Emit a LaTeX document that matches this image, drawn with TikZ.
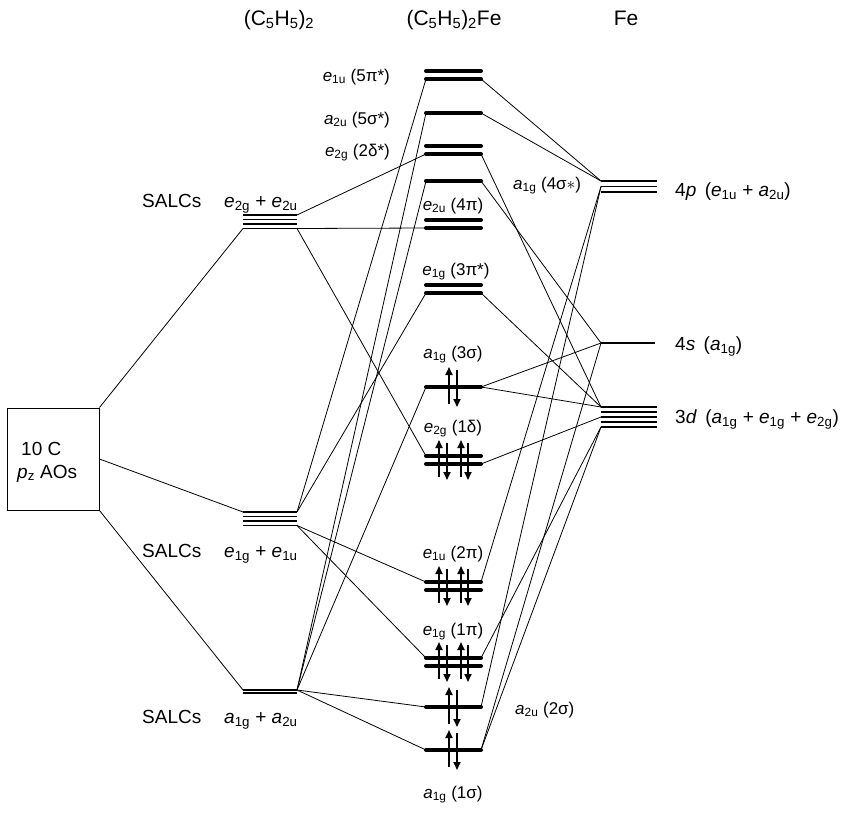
\documentclass[tikz,border=0pt]{standalone}
\usepackage{fontspec}
\setmainfont{Liberation Sans}
\usetikzlibrary{arrows.meta}
% irreducible representation: italic letter with upright subscript
\newcommand\irr[2]{\textit{#1}\textsubscript{#2}}
\begin{document}
\begin{tikzpicture}[x=1pt,y=-1pt,
  conn/.style={line width=0.8pt},
  salc/.style={line width=1.3pt},
  felevel/.style={line width=1.4pt},
  mobar/.style={line width=4pt,line cap=round},
  elec/.style={line width=1.8pt,-{Triangle[length=8pt,width=7pt]}},
  head/.style={inner sep=0pt,font=\fontsize{21}{24}\selectfont},
  molab/.style={inner sep=0pt,font=\fontsize{17}{20}\selectfont},
  salclab/.style={inner sep=0pt,font=\fontsize{19}{22}\selectfont},
  felab/.style={inner sep=0pt,font=\fontsize{19}{22}\selectfont},
  boxlab/.style={inner sep=0pt,font=\fontsize{19}{22}\selectfont}]
\fill[white] (0,0) rectangle (854,812);
\useasboundingbox (0,0) rectangle (854,812);

% ---- column headings
\node[head,anchor=base] (hL) at (279,25) {(C\textsubscript{5}H\textsubscript{5})\textsubscript{2}};
\node[head,anchor=base] (hM) at (454,25) {(C\textsubscript{5}H\textsubscript{5})\textsubscript{2}Fe};
\node[head,anchor=base] (hR) at (626,25) {Fe};

% ---- carbon p_z basis
\node[draw,line width=1pt,minimum width=92pt,minimum height=102pt,inner sep=0pt] (box) at (53,459) {};
\node[boxlab,anchor=base west] (boxa) at (21,455) {10 C};
\node[boxlab,anchor=base west] (boxb) at (17,478) {\irr{p}{z} AOs};

% ---- ligand SALC levels
\foreach \y/\n in {215/1,219.5/2,224/3,228.5/4}{
  \coordinate (sT\n L) at (243,\y); \coordinate (sT\n R) at (297,\y);
  \draw[salc] (sT\n L) -- (sT\n R);}
\foreach \y/\n in {512/1,516.5/2,521/3,525.5/4}{
  \coordinate (sM\n L) at (243,\y); \coordinate (sM\n R) at (297,\y);
  \draw[salc] (sM\n L) -- (sM\n R);}
\foreach \y/\n in {690/1,693/2}{
  \coordinate (sB\n L) at (243,\y); \coordinate (sB\n R) at (297,\y);
  \draw[salc] (sB\n L) -- (sB\n R);}
\node[salclab,anchor=base west] (sTa) at (142,207) {SALCs};
\node[salclab,anchor=base west] (sTb) at (224,207) {\irr{e}{2g} + \irr{e}{2u}};
\node[salclab,anchor=base west] (sMa) at (142,557) {SALCs};
\node[salclab,anchor=base west] (sMb) at (224,557) {\irr{e}{1g} + \irr{e}{1u}};
\node[salclab,anchor=base west] (sBa) at (142,723) {SALCs};
\node[salclab,anchor=base west] (sBb) at (224,723) {\irr{a}{1g} + \irr{a}{2u}};

% ---- Fe atomic levels
\foreach \y/\n in {181/1,186.5/2,192/3}{
  \coordinate (p\n L) at (601,\y); \coordinate (p\n R) at (657,\y);
  \draw[felevel] (p\n L) -- (p\n R);}
\coordinate (sL) at (601,343); \coordinate (sR) at (655,343);
\draw[felevel] (sL) -- (sR);
\foreach \y/\n in {407/1,412/2,417/3,422/4,427/5}{
  \coordinate (d\n L) at (601,\y); \coordinate (d\n R) at (657,\y);
  \draw[felevel] (d\n L) -- (d\n R);}
\node[felab,anchor=base west] (p4lab) at (675,196) {4\textit{p}\, (\irr{e}{1u} + \irr{a}{2u})};
\node[felab,anchor=base west] (s4lab) at (675,350) {4\textit{s}\, (\irr{a}{1g})};
\node[felab,anchor=base west] (d3lab) at (675,423) {3\textit{d}\, (\irr{a}{1g} + \irr{e}{1g} + \irr{e}{2g})};

% ---- ferrocene MO end points
\foreach \nm/\y in {e1uFu/71,e1uF/79,a2uF/113,e2gFu/146,e2gF/154,a1gF/181,
                    e2uFu/220,e2uF/228,e1gFu/285,e1gF/293,a1gT/387,
                    e2gOu/456,e2gOl/464,e1uOu/582,e1uOl/590,e1gOu/658,e1gOl/666,
                    a2uO/707,a1gO/750}{
  \coordinate (\nm L) at (426,\y); \coordinate (\nm R) at (481,\y);}

% ---- correlation lines: C p_z to SALCs
\draw[conn] (box.north east) -- (sT4L);
\draw[conn] (box.east) -- (sM1L);
\draw[conn] (box.south east) -- (sB1L);

% ---- correlation lines: SALCs to ferrocene MOs
\draw[conn] (sT1R) -- (e2gFL);
\draw[conn] (sT4R) -- (e2uFL);
\draw[conn] (sT4R) -- (e2gOuL);
\draw[conn] (sM1R) -- (e1uFL);
\draw[conn] (sM1R) -- (e1gFL);
\draw[conn] (sM4R) -- (e1uOuL);
\draw[conn] (sM4R) -- (e1gOuL);
\draw[conn] (sB1R) -- (a2uFL);
\draw[conn] (sB1R) -- (a1gFL);
\draw[conn] (sB1R) -- (a1gTL);
\draw[conn] (sB1R) -- (a2uOL);
\draw[conn] (sB1R) -- (a1gOL);

% ---- correlation lines: ferrocene MOs to Fe AOs
\draw[conn] (e1uFR) -- (p1L);
\draw[conn] (a2uFR) -- (p1L);
\draw[conn] (e2gFR) -- (d1L);
\draw[conn] (a1gFR) -- (sL);
\draw[conn] (e1gFR) -- (d1L);
\draw[conn] (a1gTR) -- (sL);
\draw[conn] (a1gTR) -- (d1L);
\draw[conn] (e2gOlR) -- (d3L);
\draw[conn] (e1uOuR) -- (p2L);
\draw[conn] (e1gOuR) -- (d5L);
\draw[conn] (a2uOR) -- (p2L);
\draw[conn] (a1gOR) -- (sL);
\draw[conn] (a1gOR) -- (d5L);

% ---- ferrocene MO bars
\foreach \nm in {e1uFu,e1uF,a2uF,e2gFu,e2gF,a1gF,e2uFu,e2uF,e1gFu,e1gF,a1gT,
                 e2gOu,e2gOl,e1uOu,e1uOl,e1gOu,e1gOl,a2uO,a1gO}{
  \draw[mobar] (\nm L) -- (\nm R);}

% ---- MO labels
\node[molab,anchor=base east] (l1) at (390,81) {\irr{e}{1u} (5π*)};
\node[molab,anchor=base east] (l2) at (390,124) {\irr{a}{2u} (5σ*)};
\node[molab,anchor=base east] (l3) at (390,156) {\irr{e}{2g} (2δ*)};
\node[molab,anchor=base west] (l4) at (513,189) {\irr{a}{1g} (4σ$\ast$)};
\node[molab,anchor=base] (l5) at (453,210) {\irr{e}{2u} (4π)};
\node[molab,anchor=base] (l6) at (456,275) {\irr{e}{1g} (3π*)};
\node[molab,anchor=base] (l7) at (453,358) {\irr{a}{1g} (3σ)};
\node[molab,anchor=base] (l8) at (453,432) {\irr{e}{2g} (1δ)};
\node[molab,anchor=base] (l9) at (453,558) {\irr{e}{1u} (2π)};
\node[molab,anchor=base] (l10) at (453,635) {\irr{e}{1g} (1π)};
\node[molab,anchor=base west] (l11) at (515,714) {\irr{a}{2u} (2σ)};
\node[molab,anchor=base] (l12) at (453,798) {\irr{a}{1g} (1σ)};

% ---- electron pairs
\foreach \y in {387,707,750}{
  \draw[elec] (449,\y+17) -- (449,\y-20);
  \draw[elec] (457,\y-17) -- (457,\y+20);}
\foreach \y in {460,586,662}{
  \draw[elec] (439,\y+17) -- (439,\y-20);
  \draw[elec] (447,\y-17) -- (447,\y+20);
  \draw[elec] (461,\y+17) -- (461,\y-20);
  \draw[elec] (468,\y-17) -- (468,\y+20);}
\end{tikzpicture}
\end{document}
